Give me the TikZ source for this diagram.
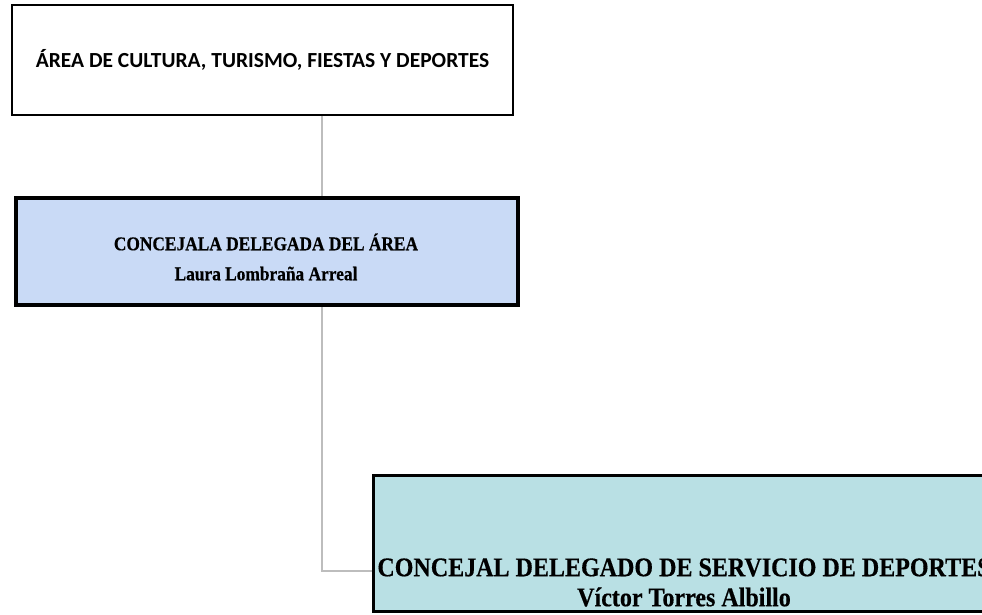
\documentclass[tikz,border=0pt]{standalone}
\usepackage{fontspec}
\setmainfont{Liberation Serif}
\newfontfamily\boxsans{Carlito}
\newfontfamily\boxserif[FakeStretch=0.89, FakeBold=0.4]{Liberation Serif}
\usetikzlibrary{calc,positioning}
\definecolor{delegblue}{HTML}{C9DAF6}
\definecolor{servteal}{HTML}{B9E0E4}
\definecolor{linkgray}{HTML}{BDBDBD}
\tikzset{
  areabox/.style={draw=black, line width=1.5pt, fill=white, minimum width=501pt, minimum height=110pt, font=\boxsans\bfseries\fontsize{21.5}{26}\selectfont},
  delegbox/.style={draw=black, line width=4pt, fill=delegblue, minimum width=502pt, minimum height=107pt},
  servbox/.style={draw=black, line width=3pt, fill=servteal, minimum width=640pt, minimum height=136pt},
  boxtext/.style={align=center, inner sep=0pt},
  link/.style={draw=linkgray, line width=2pt}
}
\begin{document}
\begin{tikzpicture}[x=1pt, y=-1pt]
			%%%%% START %%%%%
			\useasboundingbox[fill=white] (0, 0) rectangle (982, 614);
			
			\node[areabox] (area) at (262.5, 60) {ÁREA DE CULTURA, TURISMO, FIESTAS Y DEPORTES};
			
			\node[delegbox] (deleg) at (267, 251.5) {};
			\node[boxtext, font=\boxserif\bfseries\fontsize{19.5}{30}\selectfont] (delegtxt) at (266, 257) {CONCEJALA DELEGADA DEL ÁREA\\Laura Lombraña Arreal};
			
			\node[servbox] (serv) at (693, 543) {};
			\node[boxtext, font=\boxserif\bfseries\fontsize{27}{30}\selectfont] (servtxt) at (684, 582.5) {CONCEJAL DELEGADO DE SERVICIO DE DEPORTES\\Víctor Torres Albillo};
			
			\coordinate (jn) at (322, 571);
			\draw[link] (area.south -| jn) -- (deleg.north -| jn);
			\draw[link] (deleg.south -| jn) |- (serv.west |- jn);
			
			%%%%% END %%%%%
\end{tikzpicture}
\end{document}
